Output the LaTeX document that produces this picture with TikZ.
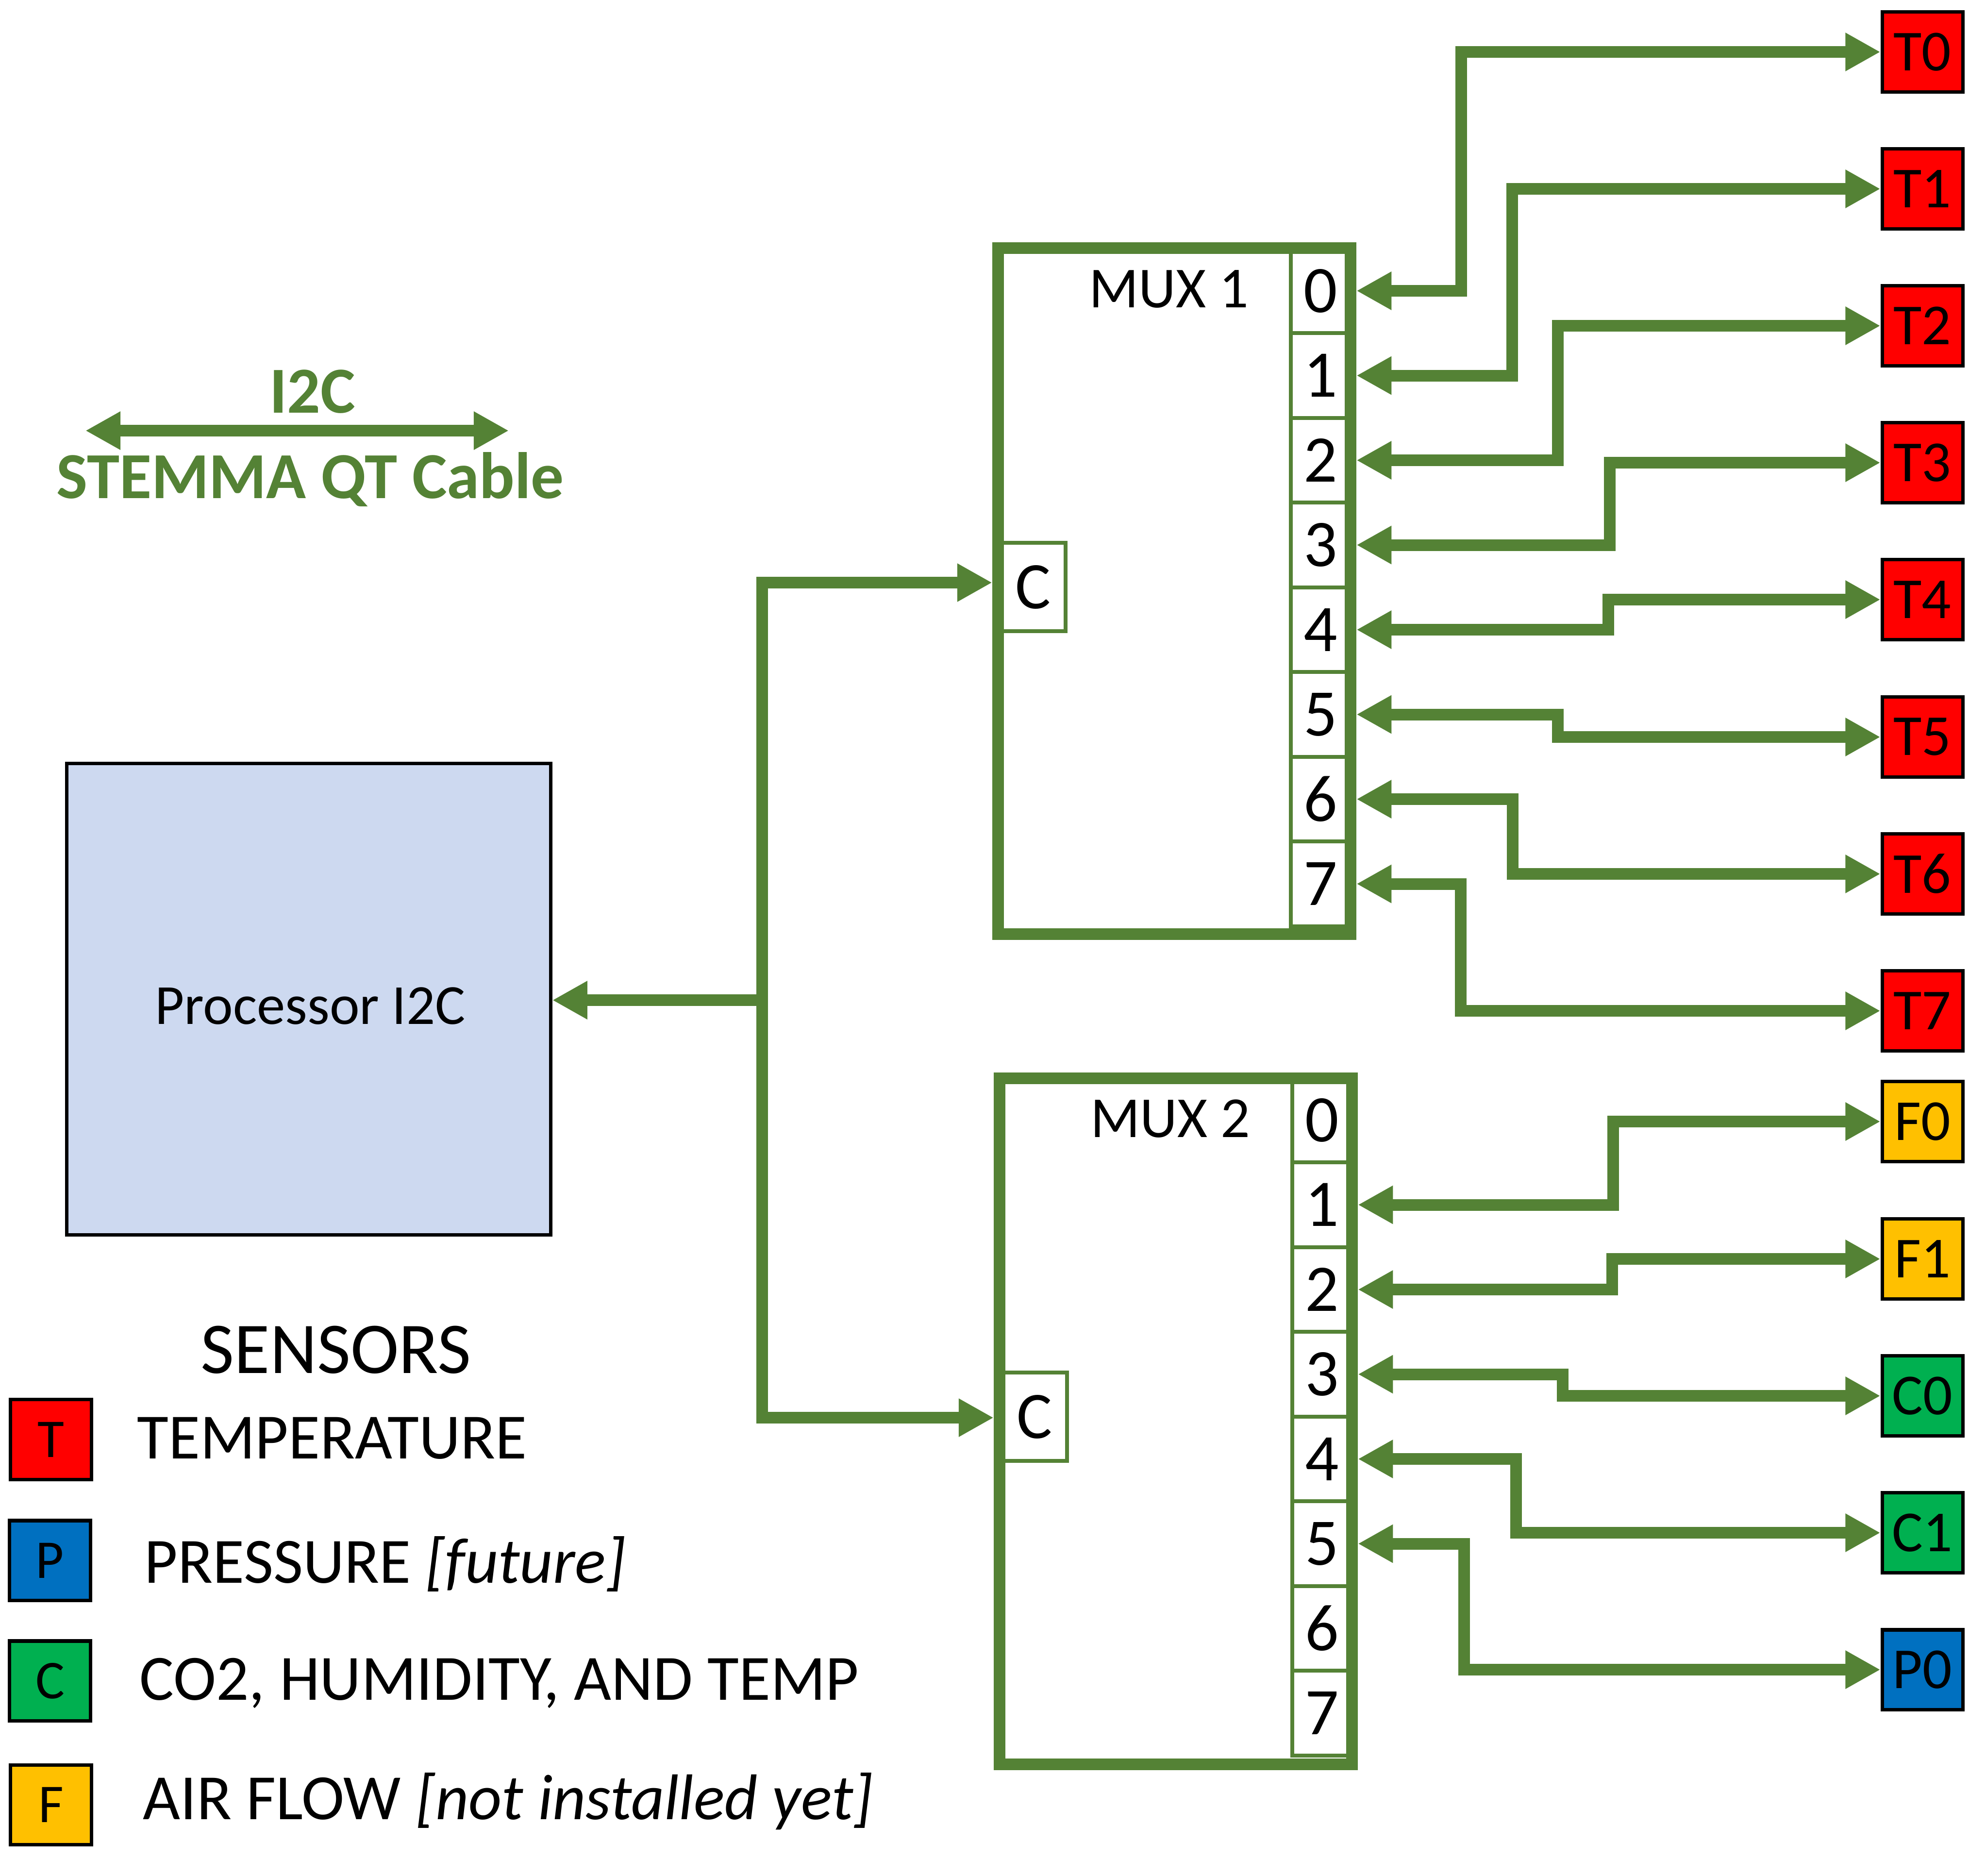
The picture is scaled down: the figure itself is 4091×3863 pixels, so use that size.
\documentclass[tikz,border=0pt]{standalone}
\usepackage{fontspec}
\setmainfont{Carlito}
\usetikzlibrary{arrows.meta, positioning}
\definecolor{muxgreen}{RGB}{84,130,53}
\definecolor{tred}{RGB}{255,0,0}
\definecolor{pblue}{RGB}{0,112,192}
\definecolor{cgreen}{RGB}{0,176,80}
\definecolor{fyellow}{RGB}{255,192,0}
\definecolor{procblue}{RGB}{205,217,240}

\begin{document}
\begin{tikzpicture}[x=0.01cm, y=-0.01cm,
        >={Triangle[length=0.72cm, width=0.74cm]},
        cable/.style={<->, draw=muxgreen, line width=0.24cm},
        mux/.style={rectangle, draw=muxgreen, line width=0.24cm, minimum width=7.26cm, minimum height=14.12cm},
        port/.style={rectangle, draw=muxgreen, line width=0.08cm, minimum width=1.23cm, minimum height=1.745cm, inner sep=0, font=\fontsize{39}{46}\selectfont},
        com/.style={port, minimum width=1.34cm, minimum height=1.82cm},
        cpu/.style={rectangle, draw=black, fill=procblue, line width=0.07cm, minimum width=9.96cm, minimum height=9.71cm},
        sensor/.style={rectangle, draw=black, line width=0.07cm, minimum width=1.66cm, minimum height=1.64cm, inner sep=0, font=\fontsize{34}{40}\selectfont},
        key/.style={sensor, font=\fontsize{32}{38}\selectfont},
        keytext/.style={anchor=base west, inner sep=0, font=\fontsize{37.8}{45}\selectfont},
        cabletext/.style={anchor=base, inner sep=0, text=muxgreen, font=\fontsize{38.5}{46}\selectfont\bfseries}
    ]
        \useasboundingbox (0,0) rectangle (4091,3863);

        % I2C cable legend
        \coordinate (cl) at (176,887);
        \coordinate (cr) at (1048,887);
        \draw[cable] (cl) -- (cr);
        \node[cabletext] (i2c) at (644,850) {I2C};
        \node[cabletext] (stemma) at (639,1026) {STEMMA QT Cable};

        % Processor
        \node[cpu] (proc) at (636,2058) {};
        \node[font=\fontsize{33.2}{40}\selectfont] (proct) at (639,2072) {Processor I2C};

        % Mux 1
        \node[port] (m1p0) at (2720,599) {0};
        \node[port] (m1p1) at (2720,773.5) {1};
        \node[port] (m1p2) at (2720,948) {2};
        \node[port] (m1p3) at (2720,1122.5) {3};
        \node[port] (m1p4) at (2720,1297) {4};
        \node[port] (m1p5) at (2720,1471.5) {5};
        \node[port] (m1p6) at (2720,1646) {6};
        \node[port] (m1p7) at (2720,1820.5) {7};
        \node[com] (c1) at (2128,1209) {C};
        \node[mux] (mux1) at (2419,1217.5) {};
        \node[font=\fontsize{34}{40}\selectfont] (mux1t) at (2408,595) {MUX 1};

        % Mux 2
        \node[port] (m2p0) at (2723,2307) {0};
        \node[port] (m2p1) at (2723,2481.5) {1};
        \node[port] (m2p2) at (2723,2656) {2};
        \node[port] (m2p3) at (2723,2830.5) {3};
        \node[port] (m2p4) at (2723,3005) {4};
        \node[port] (m2p5) at (2723,3179.5) {5};
        \node[port] (m2p6) at (2723,3354) {6};
        \node[port] (m2p7) at (2723,3528.5) {7};
        \node[com] (c2) at (2131,2918) {C};
        \node[mux] (mux2) at (2422,2927.5) {};
        \node[font=\fontsize{34}{40}\selectfont] (mux2t) at (2411,2304) {MUX 2};

        % Bus from processor to both muxes
        \coordinate (bt) at (1570,1200);
        \coordinate (bm) at (1570,2060);
        \coordinate (bb) at (1570,2920);
        \draw[cable] (bt -| mux1.west) -- (bt) -- (bb) -- (bb -| mux2.west);
        \draw[cable, <-] (proc.east |- bm) -- (bm);

        % Sensors
        \node[sensor, fill=tred] (T0) at (3960,107) {T0};
        \node[sensor, fill=tred] (T1) at (3960,389) {T1};
        \node[sensor, fill=tred] (T2) at (3960,671) {T2};
        \node[sensor, fill=tred] (T3) at (3960,953) {T3};
        \node[sensor, fill=tred] (T4) at (3960,1235) {T4};
        \node[sensor, fill=tred] (T5) at (3960,1518) {T5};
        \node[sensor, fill=tred] (T6) at (3960,1800) {T6};
        \node[sensor, fill=tred] (T7) at (3960,2082) {T7};
        \node[sensor, fill=fyellow] (F0) at (3960,2310) {F0};
        \node[sensor, fill=fyellow] (F1) at (3960,2593) {F1};
        \node[sensor, fill=cgreen] (C0) at (3960,2875) {C0};
        \node[sensor, fill=cgreen] (C1) at (3960,3157) {C1};
        \node[sensor, fill=pblue] (P0) at (3960,3439) {P0};

        % Mux 1 to sensors
        \draw[cable] (mux1.east |- m1p0) -- (m1p0 -| 3010,0) |- (T0.west);
        \draw[cable] (mux1.east |- m1p1) -- (m1p1 -| 3115,0) |- (T1.west);
        \draw[cable] (mux1.east |- m1p2) -- (m1p2 -| 3209,0) |- (T2.west);
        \draw[cable] (mux1.east |- m1p3) -- (m1p3 -| 3316,0) |- (T3.west);
        \draw[cable] (mux1.east |- m1p4) -- (m1p4 -| 3313,0) |- (T4.west);
        \draw[cable] (mux1.east |- m1p5) -- (m1p5 -| 3209,0) |- (T5.west);
        \draw[cable] (mux1.east |- m1p6) -- (m1p6 -| 3116,0) |- (T6.west);
        \draw[cable] (mux1.east |- m1p7) -- (m1p7 -| 3009,0) |- (T7.west);

        % Mux 2 to sensors
        \draw[cable] (mux2.east |- m2p1) -- (m2p1 -| 3323,0) |- (F0.west);
        \draw[cable] (mux2.east |- m2p2) -- (m2p2 -| 3321,0) |- (F1.west);
        \draw[cable] (mux2.east |- m2p3) -- (m2p3 -| 3219,0) |- (C0.west);
        \draw[cable] (mux2.east |- m2p4) -- (m2p4 -| 3123,0) |- (C1.west);
        \draw[cable] (mux2.east |- m2p5) -- (m2p5 -| 3016,0) |- (P0.west);

        % Sensor legend
        \node[anchor=base, inner sep=0, font=\fontsize{42.7}{51}\selectfont] (legend) at (692,2828) {SENSORS};
        \node[key, fill=tred] (kT) at (105,2965) {T};
        \node[key, fill=pblue] (kP) at (103,3214) {P};
        \node[key, fill=cgreen] (kC) at (103,3462) {C};
        \node[key, fill=fyellow] (kF) at (105,3717) {F};
        \node[keytext] (kTt) at (282,3004) {TEMPERATURE};
        \node[keytext] (kPt) at (297,3260) {PRESSURE \textit{[future]}};
        \node[keytext] (kCt) at (287,3501) {CO2, HUMIDITY, AND TEMP};
        \node[keytext] (kFt) at (294,3747) {AIR FLOW \textit{[not installed yet]}};
    \end{tikzpicture}
\end{document}
